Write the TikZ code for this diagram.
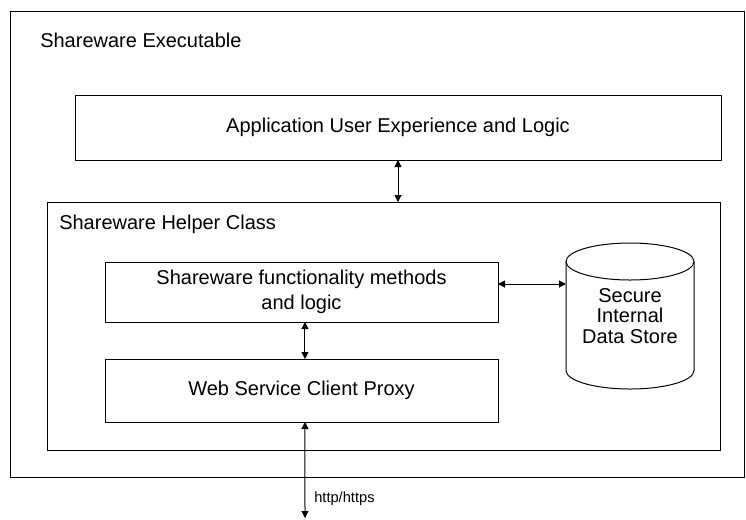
\documentclass[tikz,border=0pt]{standalone}
\usepackage{fontspec}
\setmainfont{Liberation Sans}
\usetikzlibrary{arrows.meta}
\begin{document}
\begin{tikzpicture}[
x=0.75pt,y=-0.75pt,
box/.style={draw,line width=0.75pt,inner sep=0pt,outer sep=0pt},
txt/.style={font=\fontsize{15}{15.5}\selectfont},
small/.style={font=\fontsize{11}{13}\selectfont},
biarrow/.style={line width=0.75pt,
  {Triangle[length=5.25pt,width=5.25pt]}-{Triangle[length=5.25pt,width=5.25pt]}},
]
\useasboundingbox (0,0) rectangle (746,519);
% frames
\node[box,minimum width=550.5pt,minimum height=349.5pt] (exe) at (377,244) {};
\node[txt,inner sep=0pt,anchor=base west] (exetitle) at (40,47) {Shareware Executable};
\node[box,txt,minimum width=484.5pt,minimum height=48.75pt] (app) at (398,127.5)
    {Application User Experience and Logic};
\node[box,minimum width=504.75pt,minimum height=186pt] (helper) at (383.5,326) {};
\node[txt,inner sep=0pt,anchor=base west] (helpertitle) at (59,229) {Shareware Helper Class};
% helper class parts
\node[box,txt,align=center,minimum width=294.75pt,minimum height=45pt] (func) at (301.5,292)
    {Shareware functionality methods\\[3pt]and logic};
\node[box,txt,minimum width=294.75pt,minimum height=47.25pt] (proxy) at (301.5,390.5)
    {Web Service Client Proxy};
\node[txt,align=center,inner sep=0pt,outer sep=0pt,minimum width=96pt,minimum height=109.5pt]
    (store) at (630,316) {Secure\\Internal\\Data Store};
\draw[line width=0.75pt] (630,261.5) ellipse [x radius=64,y radius=18.5];
\draw[line width=0.75pt] (566,261.5) -- (566,370.5)
    arc[start angle=180,end angle=0,x radius=64,y radius=18.5] -- (694,261.5);
\coordinate (net) at (305,518);
% links
\draw[biarrow] (app.south) -- (app.south |- helper.north);
\draw[biarrow] ([yshift=6pt]func.east) -- ([yshift=6pt]func.east -| store.west);
\draw[biarrow] ([xshift=2.6pt]func.south) -- ([xshift=2.6pt]proxy.north);
\draw[biarrow] ([xshift=2.6pt]proxy.south) -- (net);
\node[small,inner sep=0pt,anchor=base west] (proto) at (314,502) {http/https};
\end{tikzpicture}
\end{document}
